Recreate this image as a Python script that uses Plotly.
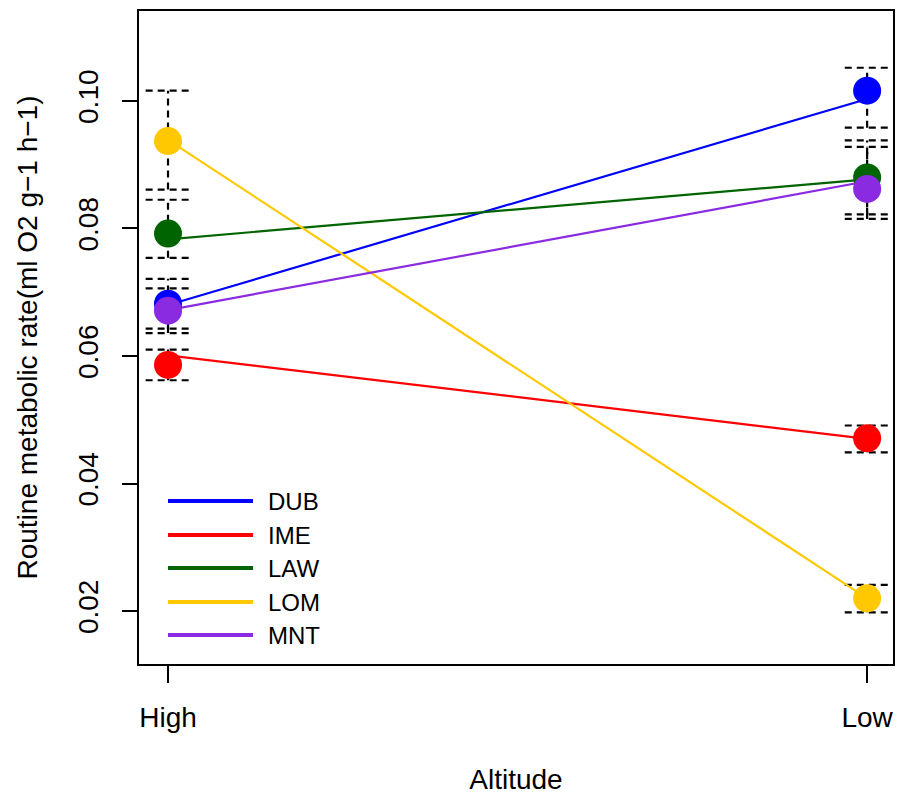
import plotly.graph_objects as go

# ---- data ----
altitudes = ["High", "Low"]
populations = ["DUB", "IME", "LAW", "LOM", "MNT"]
colors = ["#0000FF", "#FF0000", "#006400", "#FFC800", "#8A2BE2"]

# mean values (points)
dub_mean = [0.0682, 0.1016]
ime_mean = [0.0586, 0.0471]
law_mean = [0.0792, 0.0880]
lom_mean = [0.0937, 0.0220]
mnt_mean = [0.0671, 0.0862]

# fitted lines
dub_line = [0.0680, 0.1003]
ime_line = [0.0601, 0.0470]
law_line = [0.0783, 0.0877]
lom_line = [0.0939, 0.0220]
mnt_line = [0.0672, 0.0874]

# error bar limits (upper, lower)
dub_upper = [0.0721, 0.1052]
dub_lower = [0.0643, 0.0958]
ime_upper = [0.0610, 0.0491]
ime_lower = [0.0562, 0.0449]
law_upper = [0.0845, 0.0938]
law_lower = [0.0754, 0.0822]
lom_upper = [0.1016, 0.0241]
lom_lower = [0.0861, 0.0198]
mnt_upper = [0.0706, 0.0928]
mnt_lower = [0.0636, 0.0815]

means = [dub_mean, ime_mean, law_mean, lom_mean, mnt_mean]
lines = [dub_line, ime_line, law_line, lom_line, mnt_line]
uppers = [dub_upper, ime_upper, law_upper, lom_upper, mnt_upper]
lowers = [dub_lower, ime_lower, law_lower, lom_lower, mnt_lower]

xpos = [0, 1]
cap = 0.032
FONT = "Liberation Sans, Arial, sans-serif"

fig = go.Figure()

# dashed error bars
for up, lo in zip(uppers, lowers):
    ex, ey = [], []
    for xi, u, l in zip(xpos, up, lo):
        ex += [xi, xi, None, xi - cap, xi + cap, None, xi - cap, xi + cap, None]
        ey += [l, u, None, u, u, None, l, l, None]
    fig.add_trace(go.Scatter(x=ex, y=ey, mode="lines",
                             line=dict(color="black", width=2.2, dash="7px,5px"),
                             hoverinfo="skip", showlegend=False))

# lines
for name, ln, c in zip(populations, lines, colors):
    fig.add_trace(go.Scatter(x=xpos, y=ln, mode="lines", name=name,
                             line=dict(color=c, width=2.2), showlegend=False))

# points
for name, m, c in zip(populations, means, colors):
    fig.add_trace(go.Scatter(x=xpos, y=m, mode="markers", name=name,
                             marker=dict(color=c, size=28, line=dict(width=0)),
                             showlegend=False))

# manual legend (R style)
L, R, T, B = 139, 893, 11, 664
def px(xp):
    return (xp - L) / (R - L)
def py(yp):
    return (B - yp) / (B - T)

leg_y = [501, 535, 568, 602, 635]
for name, c, yy in zip(populations, colors, leg_y):
    fig.add_shape(type="line", xref="paper", yref="paper",
                  x0=px(168), x1=px(253), y0=py(yy), y1=py(yy),
                  line=dict(color=c, width=4))
    fig.add_annotation(xref="paper", yref="paper", x=px(266), y=py(yy),
                       text=name, showarrow=False, xanchor="left", yanchor="middle",
                       font=dict(size=24, color="black", family=FONT))

fig.update_layout(
    width=897, height=800,
    margin=dict(l=L, r=897 - R, t=T, b=800 - B),
    paper_bgcolor="white", plot_bgcolor="white",
    font=dict(family=FONT, size=28, color="black"),
    showlegend=False,
)
fig.update_xaxes(
    range=[-0.0415, 1.037], tickvals=xpos, ticktext=altitudes,
    showgrid=False, zeroline=False, automargin=False,
    showline=True, mirror=True, linecolor="black", linewidth=2,
    ticks="outside", ticklen=17, tickwidth=1.5, tickcolor="black",
    ticklabelstandoff=10, tickfont=dict(size=28),
    title=dict(text="Altitude", standoff=38, font=dict(size=28)),
)
fig.update_yaxes(
    range=[0.0117, 0.1141], tickvals=[0.02, 0.04, 0.06, 0.08, 0.10],
    ticktext=["0.02", "0.04", "0.06", "0.08", "0.10"], tickangle=-90,
    showgrid=False, zeroline=False, automargin=False,
    showline=True, mirror=True, linecolor="black", linewidth=2,
    ticks="outside", ticklen=15, tickwidth=1.5, tickcolor="black",
    ticklabelstandoff=13, tickfont=dict(size=28),
    title=dict(text="Routine metabolic rate(ml O2 g\u22121 h\u22121)", standoff=27, font=dict(size=28)),
)

fig.write_html("out.html", config={"displayModeBar": False},
               post_script="document.body.style.margin='0';document.body.style.overflow='hidden';")
